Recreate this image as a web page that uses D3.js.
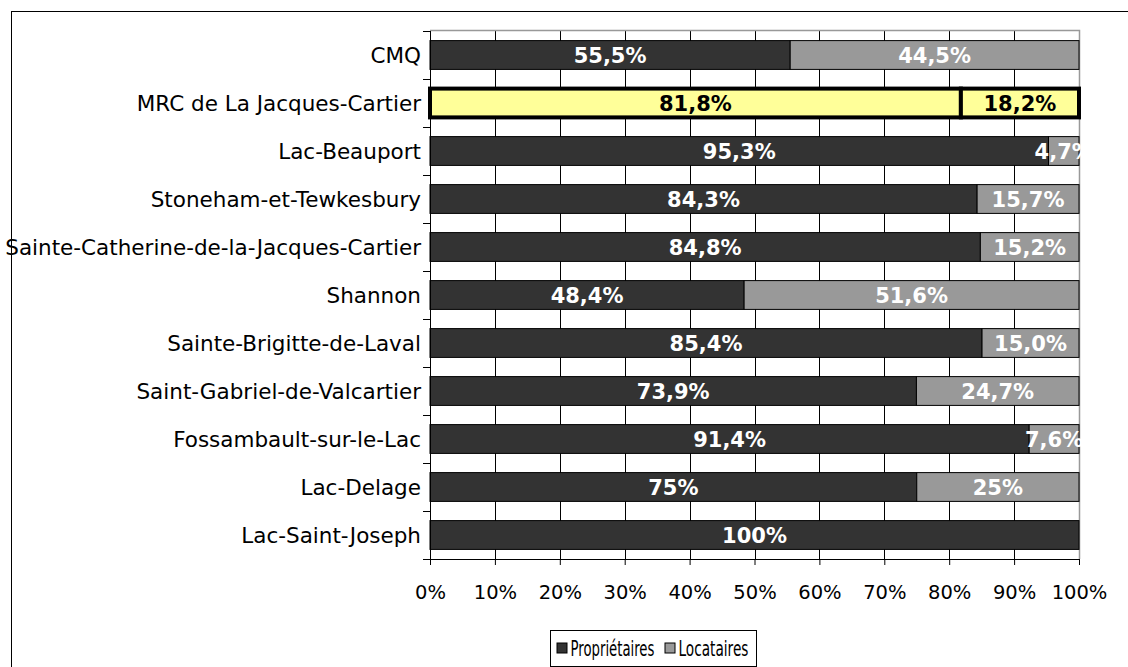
<!DOCTYPE html>
<html>
<head>
<meta charset="utf-8">
<script src="https://cdn.jsdelivr.net/npm/d3@7"></script>
<style>
  body { margin: 0; background: #fff; }
  svg text { font-family: "DejaVu Sans", Verdana, sans-serif; }
</style>
</head>
<body>
<div id="chart"></div>
<script>
// categories (top to bottom)
const places = [
  "CMQ",
  "MRC de La Jacques-Cartier",
  "Lac-Beauport",
  "Stoneham-et-Tewkesbury",
  "Sainte-Catherine-de-la-Jacques-Cartier",
  "Shannon",
  "Sainte-Brigitte-de-Laval",
  "Saint-Gabriel-de-Valcartier",
  "Fossambault-sur-le-Lac",
  "Lac-Delage",
  "Lac-Saint-Joseph"
];
// series values in %
const owners  = [55.5, 81.8, 95.3, 84.3, 84.8, 48.4, 85.4, 73.9, 91.4, 75, 100];
const renters = [44.5, 18.2, 4.7, 15.7, 15.2, 51.6, 15.0, 24.7, 7.6, 25, 0];
// value labels as printed
const ownerLabels  = ["55,5%", "81,8%", "95,3%", "84,3%", "84,8%", "48,4%", "85,4%", "73,9%", "91,4%", "75%", "100%"];
const renterLabels = ["44,5%", "18,2%", "4,7%", "15,7%", "15,2%", "51,6%", "15,0%", "24,7%", "7,6%", "25%", ""];
const xTicks = [0, 0.1, 0.2, 0.3, 0.4, 0.5, 0.6, 0.7, 0.8, 0.9, 1];
const seriesNames = ["Propriétaires", "Locataires"];
const highlight = "MRC de La Jacques-Cartier";

const width = 1128, height = 667;
const colors = { own: "#333333", rent: "#999999", hi: "#ffff99" };

const svg = d3.select("#chart").append("svg")
  .attr("width", width).attr("height", height);

// outer frame
svg.append("rect")
  .attr("x", 11.5).attr("y", 11.5)
  .attr("width", width).attr("height", height)
  .attr("fill", "#fff").attr("stroke", "#000");

const x = d3.scaleLinear().domain([0, 1]).range([430, 1079]);
const y = d3.scaleBand().domain(places).range([31, 559])
  .paddingInner(0.4).paddingOuter(0.2);

// 100% stacked rows
const rows = places.map((p, i) => {
  const total = owners[i] + renters[i];
  return { name: p, own: owners[i] / total, ownLbl: ownerLabels[i], rentLbl: renterLabels[i] };
});

// gridlines
svg.append("g").selectAll("line")
  .data(xTicks.slice(1, -1))
  .join("line")
  .attr("x1", d => Math.round(x(d)) + 0.5).attr("x2", d => Math.round(x(d)) + 0.5)
  .attr("y1", 31).attr("y2", 559)
  .attr("stroke", "#000");

// plot area border (top, right)
svg.append("path")
  .attr("d", `M${x(0)},30.5H${x(1) + 0.5}V559`)
  .attr("fill", "none").attr("stroke", "#999").attr("stroke-width", 1.5);

// bars
const bar = svg.append("g").selectAll("g")
  .data(rows)
  .join("g");

bar.each(function (d) {
  const g = d3.select(this);
  const isHi = d.name === highlight;
  const y0 = y(d.name), bh = y.bandwidth();
  const segs = [
    { a: 0, b: d.own, fill: isHi ? colors.hi : colors.own, lbl: d.ownLbl },
    { a: d.own, b: 1, fill: isHi ? colors.hi : colors.rent, lbl: d.rentLbl }
  ];
  segs.forEach(s => {
    if (s.b - s.a <= 0) return;
    g.append("rect")
      .attr("x", x(s.a)).attr("y", y0)
      .attr("width", x(s.b) - x(s.a)).attr("height", bh)
      .attr("fill", s.fill)
      .attr("stroke", "#000")
      .attr("stroke-width", isHi ? 4 : 1);
  });
  segs.forEach(s => {
    if (!s.lbl) return;
    g.append("text")
      .attr("x", (x(s.a) + x(s.b)) / 2)
      .attr("y", y0 + bh / 2)
      .attr("dy", "0.36em")
      .attr("text-anchor", "middle")
      .attr("font-weight", "bold")
      .attr("font-size", "21px")
      .attr("fill", isHi ? "#000" : "#fff")
      .text(s.lbl);
  });
});

// y axis
const yAxis = svg.append("g").attr("transform", `translate(${x(0)},0)`);
yAxis.append("line")
  .attr("x1", 0.5).attr("x2", 0.5).attr("y1", 31).attr("y2", 559)
  .attr("stroke", "#000");
yAxis.selectAll(".tk")
  .data(d3.range(places.length + 1))
  .join("line")
  .attr("x1", -7).attr("x2", 0)
  .attr("y1", i => Math.round(31 + i * y.step()) + 0.5)
  .attr("y2", i => Math.round(31 + i * y.step()) + 0.5)
  .attr("stroke", "#000");
yAxis.selectAll("text")
  .data(places)
  .join("text")
  .attr("x", -9)
  .attr("y", d => y(d) + y.bandwidth() / 2)
  .attr("dy", "0.36em")
  .attr("text-anchor", "end")
  .attr("font-size", "21.5px")
  .attr("fill", "#000")
  .text(d => d);

// x axis
const xAxis = svg.append("g").attr("transform", "translate(0,559)")
  .call(d3.axisBottom(x).tickValues(xTicks).tickFormat(d3.format(".0%"))
    .tickSize(6).tickSizeOuter(0).tickPadding(20));
xAxis.select(".domain").attr("stroke", "#000");
xAxis.selectAll("text")
  .attr("font-size", "19.5px")
  .attr("font-family", null)
  .attr("fill", "#000");

// legend
const leg = svg.append("g").attr("transform", "translate(550.5,630.5)");
leg.append("rect")
  .attr("width", 206).attr("height", 36)
  .attr("fill", "#fff").attr("stroke", "#000");
const items = [
  { name: seriesNames[0], color: colors.own, x: 6, w: 84 },
  { name: seriesNames[1], color: colors.rent, x: 114, w: 70 }
];
items.forEach(it => {
  leg.append("rect")
    .attr("x", it.x + 0.5).attr("y", 12.5).attr("width", 10).attr("height", 10)
    .attr("fill", it.color).attr("stroke", "#000");
  const t = leg.append("text")
    .attr("y", 18).attr("dy", "0.36em")
    .attr("font-size", "21px").attr("fill", "#000")
    .text(it.name);
  // squeeze horizontally to the reference's narrow legend lettering
  const sx = it.w / t.node().getComputedTextLength();
  t.attr("transform", `translate(${it.x + 14},0) scale(${sx},1)`);
});
</script>
</body>
</html>
